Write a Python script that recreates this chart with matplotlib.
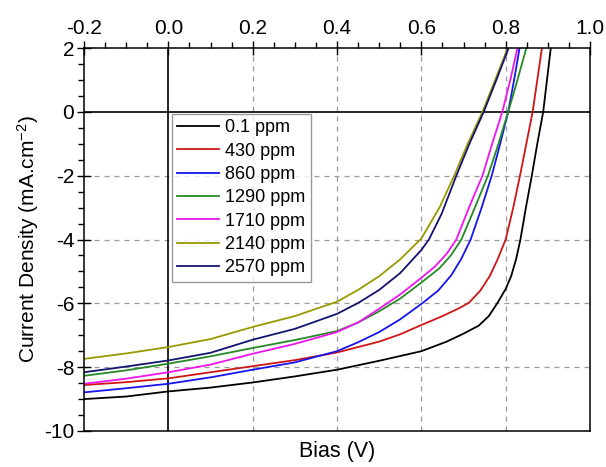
import matplotlib
matplotlib.use("Agg")
import matplotlib.pyplot as plt
from matplotlib.ticker import MultipleLocator

plt.rcParams['font.family'] = ['Liberation Sans', 'DejaVu Sans']
plt.rcParams['mathtext.default'] = 'regular'

labels = ["0.1 ppm", "430 ppm", "860 ppm", "1290 ppm", "1710 ppm", "2140 ppm", "2570 ppm"]
colors = ["#000000", "#d01515", "#1515ee", "#258a25", "#ee15ee", "#999900", "#141470"]

v_01 = [-0.2, -0.1, 0.0, 0.1, 0.2, 0.3, 0.4, 0.5, 0.6, 0.66, 0.70, 0.736, 0.76, 0.78, 0.80, 0.813, 0.825, 0.835, 0.848, 0.862, 0.875, 0.889, 0.898, 0.907]
j_01 = [-9.0, -8.92, -8.76, -8.64, -8.48, -8.29, -8.08, -7.8, -7.5, -7.2, -6.95, -6.7, -6.4, -6.0, -5.55, -5.15, -4.6, -4.0, -3.0, -2.0, -1.0, 0.0, 1.0, 2.0]

v_430 = [-0.2, -0.1, 0.0, 0.1, 0.2, 0.3, 0.4, 0.5, 0.55, 0.6, 0.65, 0.69, 0.713, 0.74, 0.762, 0.78, 0.80, 0.818, 0.834, 0.849, 0.864, 0.875, 0.886]
j_430 = [-8.56, -8.47, -8.35, -8.16, -7.97, -7.78, -7.54, -7.2, -6.97, -6.68, -6.4, -6.15, -5.98, -5.6, -5.15, -4.65, -4.0, -3.0, -2.0, -1.0, 0.0, 1.0, 2.0]

v_860 = [-0.2, -0.1, 0.0, 0.1, 0.2, 0.3, 0.4, 0.45, 0.5, 0.55, 0.6, 0.64, 0.671, 0.695, 0.717, 0.743, 0.767, 0.787, 0.806, 0.82, 0.833]
j_860 = [-8.79, -8.66, -8.52, -8.32, -8.08, -7.85, -7.5, -7.22, -6.9, -6.5, -6.02, -5.6, -5.12, -4.6, -4.0, -3.0, -2.0, -1.0, 0.0, 1.0, 2.0]

v_1290 = [-0.2, -0.1, 0.0, 0.1, 0.2, 0.3, 0.4, 0.45, 0.5, 0.55, 0.6, 0.643, 0.67, 0.695, 0.727, 0.758, 0.783, 0.806, 0.828, 0.849]
j_1290 = [-8.27, -8.1, -7.89, -7.66, -7.40, -7.15, -6.87, -6.6, -6.25, -5.85, -5.35, -4.9, -4.5, -4.0, -3.0, -2.0, -1.0, 0.0, 1.0, 2.0]

v_1710 = [-0.2, -0.1, 0.0, 0.1, 0.2, 0.3, 0.4, 0.45, 0.5, 0.55, 0.6, 0.632, 0.66, 0.683, 0.713, 0.745, 0.768, 0.792, 0.811, 0.828]
j_1710 = [-8.52, -8.36, -8.16, -7.92, -7.58, -7.27, -6.9, -6.6, -6.17, -5.72, -5.2, -4.85, -4.45, -4.0, -3.0, -2.0, -1.0, 0.0, 1.0, 2.0]

v_2140 = [-0.2, -0.1, 0.0, 0.1, 0.2, 0.3, 0.4, 0.45, 0.5, 0.55, 0.6, 0.643, 0.678, 0.71, 0.745, 0.775, 0.805]
j_2140 = [-7.74, -7.57, -7.37, -7.12, -6.74, -6.4, -5.95, -5.58, -5.15, -4.62, -3.97, -3.0, -2.0, -1.0, 0.0, 1.0, 2.0]

v_2570 = [-0.2, -0.1, 0.0, 0.1, 0.2, 0.3, 0.4, 0.45, 0.5, 0.55, 0.6, 0.618, 0.648, 0.683, 0.714, 0.748, 0.778, 0.807]
j_2570 = [-8.16, -7.98, -7.79, -7.55, -7.14, -6.8, -6.33, -5.99, -5.58, -5.05, -4.33, -4.0, -3.2, -2.0, -1.0, 0.0, 1.0, 2.0]

series = [(v_01, j_01), (v_430, j_430), (v_860, j_860), (v_1290, j_1290),
          (v_1710, j_1710), (v_2140, j_2140), (v_2570, j_2570)]

fig = plt.figure(figsize=(6.06, 4.67), dpi=100)
ax = fig.add_axes([84/606, 1-431/467, (590-84)/606, (431-48)/467])

ax.set_xlim(-0.2, 1.0)
ax.set_ylim(-10, 2)

# grid (dashed) and zero lines
for gx in [0.2, 0.4, 0.6, 0.8]:
    ax.axvline(gx, color="#9a9a9a", lw=0.9, ls=(0, (4, 4)), zorder=0)
for gy in [-2, -4, -6, -8]:
    ax.axhline(gy, color="#9a9a9a", lw=0.9, ls=(0, (4, 4)), zorder=0)
ax.axhline(0, color="black", lw=1.2, zorder=1)
ax.axvline(0, color="black", lw=1.2, zorder=1)

for (v, j), c, lab in zip(series, colors, labels):
    ax.plot(v, j, color=c, lw=1.3, label=lab, zorder=2, solid_joinstyle='round')

ax.xaxis.set_major_locator(MultipleLocator(0.2))
ax.xaxis.set_minor_locator(MultipleLocator(0.05))
ax.yaxis.set_major_locator(MultipleLocator(2))
ax.yaxis.set_minor_locator(MultipleLocator(0.5))
ax.xaxis.set_major_formatter(plt.FuncFormatter(lambda x, p: f"{x:.1f}"))
ax.yaxis.set_major_formatter(plt.FuncFormatter(lambda y, p: f"{y:.0f}"))

ax.tick_params(axis='x', which='both', top=True, bottom=False, labeltop=True, labelbottom=False)
ax.tick_params(axis='y', which='both', left=True, right=False, labelleft=True, labelright=False)
ax.tick_params(which='major', direction='inout', length=10, width=1.0, labelsize=15, pad=2)
ax.tick_params(which='minor', direction='out', length=4, width=1.0)

for s in ax.spines.values():
    s.set_linewidth(1.1)

ax.set_xlabel("Bias (V)", fontsize=15.5, labelpad=7)
ax.set_ylabel("Current Density (mA.cm$^{-2}$)", fontsize=15, labelpad=2)

leg = ax.legend(loc='upper left', bbox_to_anchor=(0.174, 0.828), borderaxespad=0,
                fontsize=13, frameon=True, fancybox=False, handlelength=2.3,
                handletextpad=0.35, labelspacing=0.35, borderpad=0.3)
leg.get_frame().set_edgecolor("#808080")
leg.get_frame().set_linewidth(1.0)

fig.savefig("out.png", dpi=100)
